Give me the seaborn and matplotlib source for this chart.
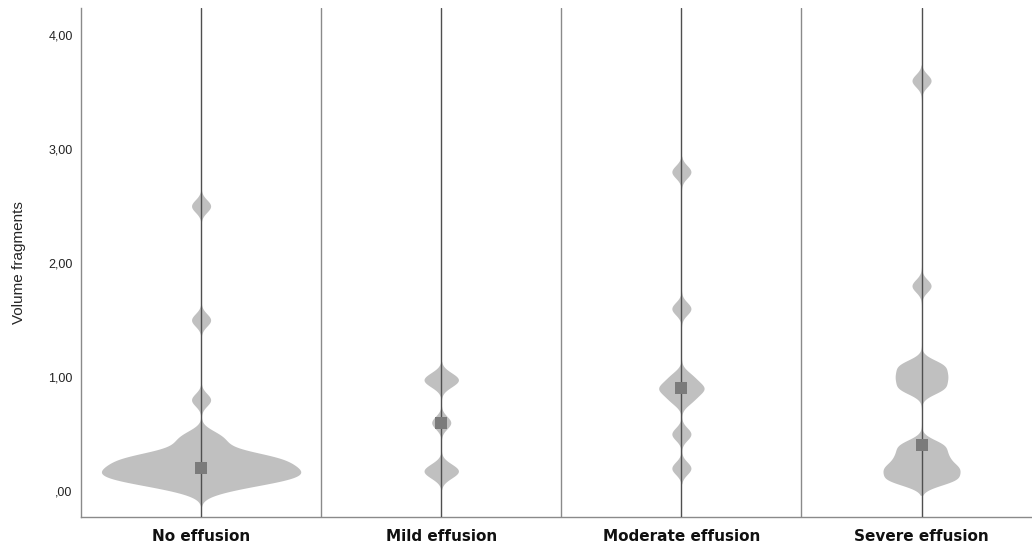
import numpy as np
import pandas as pd
import seaborn as sns
import matplotlib.pyplot as plt

# Data (volume fragments per effusion group)
categories = ["No effusion", "Mild effusion", "Moderate effusion", "Severe effusion"]
no_effusion = ([0.0] + [0.05] * 2 + [0.1] * 4 + [0.15] * 4 + [0.2] * 4 + [0.25] * 3
               + [0.3] * 4 + [0.35, 0.4, 0.45, 0.5] + [0.8, 1.5, 2.5])
mild_effusion = [0.15, 0.2, 0.6, 0.95, 1.0]
moderate_effusion = [0.2, 0.5, 0.8, 0.9, 0.9, 1.0, 1.6, 2.8]
severe_effusion = ([0.1] * 3 + [0.2] * 3 + [0.3] * 2 + [0.4] * 2
                   + [0.9] * 2 + [1.0] * 2 + [1.1] * 2 + [1.8, 3.6])
ytick_values = [0, 1, 2, 3, 4]
ytick_labels = [",00", "1,00", "2,00", "3,00", "4,00"]

groups = [no_effusion, mild_effusion, moderate_effusion, severe_effusion]
df = pd.DataFrame({
    "group": np.repeat(categories, [len(g) for g in groups]),
    "volume": np.concatenate(groups),
})
df["group"] = pd.Categorical(df["group"], categories=categories, ordered=True)

sns.set_style("white")

fig = plt.figure(figsize=(10.32, 5.48), dpi=100)
ax = fig.add_axes([0.0785, 0.0566, 0.9215, 0.9288])

# same kernel width in every group; violin width follows density * count
bw = 0.055
grid = np.linspace(-0.5, 4.5, 2001)
peaks = [np.exp(-(grid[:, None] - np.array(g)[None, :]) ** 2 / (2 * bw ** 2)).sum(axis=1).max()
         for g in groups]

for cat, pk in zip(categories, peaks):
    sns.violinplot(data=df[df["group"] == cat], x="group", y="volume", order=categories,
                   ax=ax, inner=None, color="#c0c0c0", linewidth=0, density_norm="width",
                   width=0.83 * pk / max(peaks), cut=2.5, gridsize=1000, saturation=1,
                   bw_method=lambda k: bw / k.dataset.std(ddof=1))

# vertical guide lines: through each group and between groups
for i in range(len(categories)):
    ax.axvline(i, color="#4f4f4f", lw=1, zorder=3)
    if i > 0:
        ax.axvline(i - 0.5, color="#8a8a8a", lw=1, zorder=3)

sns.pointplot(data=df, x="group", y="volume", ax=ax, estimator="median", errorbar=None,
              marker="s", markersize=8.6, markeredgewidth=0, linestyle="none",
              color="#7b7b7b")
for ln in ax.lines[-1:]:
    ln.set_zorder(4)

ax.set_xlim(-0.5, 3.46)
ax.set_ylim(-0.228, 4.237)
ax.set_yticks(ytick_values)
ax.set_yticklabels(ytick_labels, fontsize=9, color="#222222", family="Liberation Sans")
ax.tick_params(axis="both", length=0)
ax.tick_params(axis="y", pad=6)
for lab in ax.get_xticklabels():
    lab.set_fontweight("bold")
    lab.set_fontsize(11)
    lab.set_color("#111111")
ax.tick_params(axis="x", pad=9)
ax.set_xlabel("")
ax.set_ylabel("Volume fragments", fontsize=11, family="Liberation Sans", labelpad=16)

for s in ["top", "right"]:
    ax.spines[s].set_visible(False)
for s in ["left", "bottom"]:
    ax.spines[s].set_color("#8a8a8a")
    ax.spines[s].set_linewidth(1)

plt.savefig("out.png", dpi=100)
plt.close()
